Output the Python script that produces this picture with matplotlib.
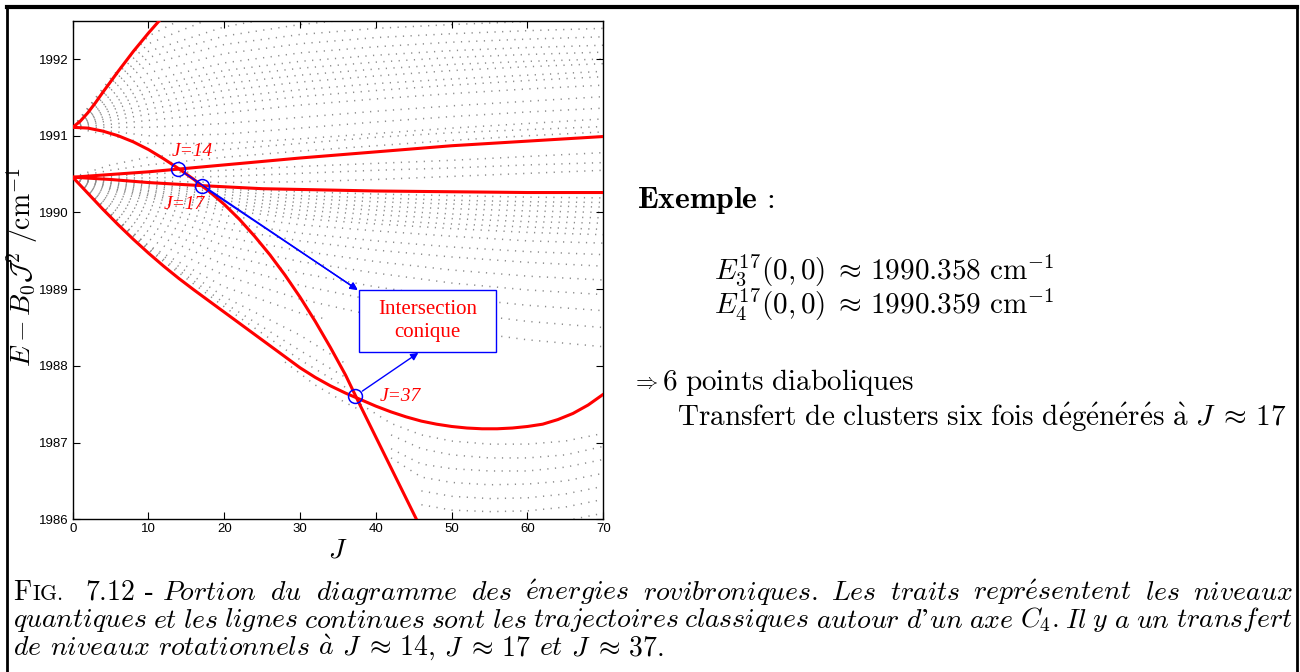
import matplotlib.pyplot as plt
from matplotlib.lines import Line2D
from matplotlib.patches import Rectangle
import numpy as np

plt.rcParams['mathtext.fontset'] = 'cm'

# classical trajectories (red curves), read as (J, E - B0 J^2)
J_r1 = [0, 1, 2, 3, 4, 6, 8, 10, 11.6]
E_r1 = [1991.11, 1991.19, 1991.30, 1991.43, 1991.57, 1991.84, 1992.10, 1992.34, 1992.52]

J_r2 = [0, 2, 4, 6, 8, 10, 12, 14, 16, 18, 20, 22, 24, 26, 28, 30, 32, 34, 36, 38, 40, 42, 44, 45.6]
E_r2 = [1991.11, 1991.10, 1991.06, 1991.00, 1990.92, 1990.82, 1990.70, 1990.57, 1990.43, 1990.275,
        1990.105, 1989.91, 1989.69, 1989.45, 1989.185, 1988.895, 1988.58, 1988.24, 1987.88, 1987.47,
        1987.07, 1986.67, 1986.27, 1985.95]

J_r3 = [0, 10, 20, 30, 40, 50, 60, 70]
E_r3 = [1990.46, 1990.53, 1990.62, 1990.71, 1990.79, 1990.87, 1990.93, 1990.99]

J_r4 = [0, 5, 10, 17, 25, 30, 40, 50, 60, 70]
E_r4 = [1990.46, 1990.43, 1990.39, 1990.35, 1990.31, 1990.30, 1990.28, 1990.27, 1990.26, 1990.26]

J_r5 = [0, 2, 4, 6, 8, 10, 12, 14, 16, 18, 20, 22, 24, 26, 28, 30, 32, 34, 36, 38, 40,
        42, 44, 46, 48, 50, 52, 54, 56, 58, 60, 62, 64, 66, 68, 70]
E_r5 = [1990.46, 1990.25, 1990.04, 1989.84, 1989.65, 1989.47, 1989.30, 1989.14, 1988.99, 1988.845,
        1988.70, 1988.555, 1988.41, 1988.265, 1988.12, 1987.975, 1987.85, 1987.74, 1987.645, 1987.56,
        1987.475, 1987.40, 1987.335, 1987.28, 1987.24, 1987.21, 1987.19, 1987.18, 1987.18, 1987.19,
        1987.21, 1987.24, 1987.30, 1987.38, 1987.49, 1987.63]

# quantum levels (grey), each branch read at these J values
J_lev = [0, 5, 10, 20, 30, 40, 50, 60, 70]
nan = np.nan
levels_up = [
    # starting from the lower cusp, just above the C4 line
    [1990.46, 1990.55, 1990.62, 1990.72, 1990.80, 1990.87, 1990.94, 1991.00, 1991.05],
    [1990.46, 1990.62, 1990.72, 1990.82, 1990.90, 1990.98, 1991.04, 1991.08, 1991.12],
    # fan from the upper cusp
    [1991.11, 1991.00, 1990.90, 1990.90, 1990.96, 1991.03, 1991.10, 1991.16, 1991.22],
    [1991.11, 1991.06, 1991.00, 1991.02, 1991.10, 1991.18, 1991.25, 1991.31, 1991.36],
    [1991.11, 1991.11, 1991.11, 1991.16, 1991.24, 1991.32, 1991.39, 1991.45, 1991.51],
    [1991.11, 1991.15, 1991.20, 1991.30, 1991.40, 1991.48, 1991.55, 1991.61, 1991.66],
    [1991.11, 1991.20, 1991.28, 1991.41, 1991.51, 1991.59, 1991.66, 1991.72, 1991.77],
    [1991.11, 1991.24, 1991.35, 1991.50, 1991.60, 1991.68, 1991.74, 1991.79, 1991.84],
    [1991.11, 1991.28, 1991.42, 1991.59, 1991.70, 1991.78, 1991.85, 1991.90, 1991.94],
    [1991.11, 1991.33, 1991.50, 1991.68, 1991.79, 1991.87, 1991.93, 1991.97, 1992.00],
    [1991.11, 1991.37, 1991.57, 1991.77, 1991.88, 1991.96, 1992.02, 1992.06, 1992.09],
    [1991.11, 1991.42, 1991.64, 1991.85, 1991.97, 1992.05, 1992.11, 1992.15, 1992.18],
    [1991.11, 1991.47, 1991.72, 1991.95, 1992.08, 1992.16, 1992.22, 1992.26, 1992.29],
    [1991.11, 1991.53, 1991.82, 1992.07, 1992.20, 1992.28, 1992.33, 1992.37, 1992.40],
    [1991.11, 1991.59, 1991.93, 1992.19, 1992.32, 1992.40, 1992.45, 1992.49, 1992.52],
    [1991.11, 1991.64, 1992.02, 1992.30, 1992.45, 1992.55, nan, nan, nan],
    [1991.11, 1991.68, 1992.10, 1992.42, 1992.60, nan, nan, nan, nan],
    [1991.11, 1991.72, 1992.20, 1992.60, nan, nan, nan, nan, nan],
    [1991.11, 1991.75, 1992.30, 1992.80, nan, nan, nan, nan, nan],
]

levels_mid = [
    # between the two flat red lines
    [1990.46, 1990.47, 1990.50, 1990.55, 1990.60, 1990.64, 1990.68, 1990.73, 1990.78],
    [1990.46, 1990.45, 1990.45, 1990.47, 1990.51, 1990.55, 1990.58, 1990.62, 1990.65],
    [1990.46, 1990.44, 1990.41, 1990.39, 1990.40, 1990.43, 1990.47, 1990.51, 1990.55],
]

levels_low = [
    # fan below the flat red line, from the lower cusp
    [1990.46, 1990.41, 1990.36, 1990.30, 1990.27, 1990.24, 1990.22, 1990.20, 1990.19],
    [1990.46, 1990.39, 1990.34, 1990.27, 1990.22, 1990.19, 1990.16, 1990.14, 1990.13],
    [1990.46, 1990.38, 1990.32, 1990.23, 1990.18, 1990.14, 1990.11, 1990.09, 1990.07],
    [1990.46, 1990.37, 1990.29, 1990.19, 1990.13, 1990.08, 1990.05, 1990.02, 1990.00],
    [1990.46, 1990.35, 1990.27, 1990.15, 1990.08, 1990.03, 1989.98, 1989.95, 1989.93],
    [1990.46, 1990.34, 1990.24, 1990.11, 1990.03, 1989.97, 1989.92, 1989.88, 1989.86],
    [1990.46, 1990.32, 1990.22, 1990.07, 1989.97, 1989.90, 1989.85, 1989.81, 1989.78],
    [1990.46, 1990.31, 1990.19, 1990.03, 1989.92, 1989.85, 1989.79, 1989.74, 1989.71],
    [1990.46, 1990.29, 1990.15, 1989.96, 1989.84, 1989.76, 1989.69, 1989.63, 1989.60],
    [1990.46, 1990.26, 1990.10, 1989.87, 1989.73, 1989.63, 1989.55, 1989.49, 1989.45],
    [1990.46, 1990.23, 1990.04, 1989.79, 1989.63, 1989.51, 1989.42, 1989.35, 1989.30],
    [1990.46, 1990.19, 1989.98, 1989.68, 1989.50, 1989.36, 1989.25, 1989.17, 1989.12],
    [1990.46, 1990.15, 1989.91, 1989.57, 1989.36, 1989.21, 1989.08, 1988.99, 1988.93],
    [1990.46, 1990.11, 1989.83, 1989.45, 1989.21, 1989.03, 1988.89, 1988.79, 1988.72],
    [1990.46, 1990.07, 1989.75, 1989.32, 1989.05, 1988.85, 1988.70, 1988.58, 1988.50],
    [1990.46, 1990.02, 1989.66, 1989.18, 1988.87, 1988.65, 1988.47, 1988.34, 1988.25],
]

# branches ending on the steep red curve
J_edge = [0, 5, 10, 20, 30, 33]
levels_edge = [
    [1990.46, 1989.97, 1989.57, 1989.03, 1988.69, 1988.62],
]
J_edge2 = [0, 5, 10, 20, 30, 36]
levels_edge2 = [
    [1990.46, 1989.99, 1989.56, 1988.90, 1988.40, 1988.03],
    [1990.46, 1989.97, 1989.53, 1988.82, 1988.20, 1987.85],
    [1990.46, 1989.96, 1989.51, 1988.77, 1988.08, 1987.72],
]

# lower right corner, below the C3 curve
J_br = [38, 42, 46, 50, 55, 60, 65, 70]
levels_br = [
    [1987.50, 1987.25, 1987.10, 1987.02, 1986.98, 1986.98, 1987.02, 1987.12],
    [nan, 1987.10, 1986.92, 1986.84, 1986.80, 1986.80, 1986.84, 1986.95],
    [nan, 1986.92, 1986.72, 1986.66, 1986.63, 1986.63, 1986.68, 1986.78],
    [nan, 1986.80, 1986.55, 1986.48, 1986.45, 1986.46, 1986.50, 1986.60],
    [nan, nan, 1986.37, 1986.30, 1986.27, 1986.28, 1986.33, 1986.43],
    [nan, nan, 1986.19, 1986.12, 1986.10, 1986.11, 1986.16, 1986.26],
    [nan, nan, nan, 1985.98, 1985.93, 1985.94, 1985.98, 1986.08],
]
J_hang = [28, 32, 36, 38]
E_hang = [1988.05, 1987.75, 1987.52, 1987.42]

# diabolic points
cross_J = [13.9, 17.0, 37.3]
cross_E = [1990.57, 1990.35, 1987.61]
cross_lab = ['J=14', 'J=17', 'J=37']

# caption text
caption_lines = [
    "Portion du diagramme des énergies rovibroniques. Les traits représentent les niveaux",
    "quantiques et les lignes continues sont les trajectoires classiques autour d'un axe $C_4.$ Il y a un transfert",
    "de niveaux rotationnels à $J\\;\\approx\\,14,$ $J\\;\\approx\\,17$ et $J\\;\\approx\\,37.$",
]

W, H = 1300, 672
fig = plt.figure(figsize=(W / 100, H / 100), dpi=100)


def fx(px):
    return px / W


def fy(py):
    return 1 - py / H


ax = fig.add_axes([fx(72.7), fy(519.3), (603.3 - 72.7) / W, (519.3 - 20.7) / H])

dot = dict(color='0.55', lw=1.1, ls=(0, (0.8, 4.2)), zorder=1)
for row in levels_up + levels_mid + levels_low:
    ax.plot(J_lev, row, **dot)
for row in levels_edge:
    ax.plot(J_edge, row, **dot)
for row in levels_edge2:
    ax.plot(J_edge2, row, **dot)
for row in levels_br:
    ax.plot(J_br, row, **dot)
ax.plot(J_hang, E_hang, **dot)

for J, E in [(J_r1, E_r1), (J_r2, E_r2), (J_r3, E_r3), (J_r4, E_r4), (J_r5, E_r5)]:
    ax.plot(J, E, color='red', lw=2.2, solid_capstyle='round', solid_joinstyle='round', zorder=3)

ax.set_xlim(0, 70)
ax.set_ylim(1986, 1992.5)
ax.set_xticks(range(0, 71, 10))
ax.set_yticks(range(1986, 1993))
ax.tick_params(direction='in', top=True, right=True, length=5, width=0.8,
               labelsize=9.5, pad=3)
for lab in ax.get_xticklabels() + ax.get_yticklabels():
    lab.set_fontfamily('Liberation Sans')
for s in ax.spines.values():
    s.set_linewidth(1.0)

fig.text(fx(22), fy(267), r'$E - B_0\mathcal{J}^2\ /\mathrm{cm}^{-1}$', fontsize=20,
         rotation=90, ha='center', va='center')
fig.text(fx(338), fy(549), r'$J$', fontsize=20, ha='center', va='center')

ax.plot(cross_J, cross_E, 'o', ms=10, mfc='none', mec='blue', mew=1.1, zorder=4)

lab_kw = dict(color='red', fontsize=14, fontstyle='italic', family='Liberation Serif',
              ha='center', va='center', zorder=5)
ax.text(15.8, 1990.80, cross_lab[0], **lab_kw)
ax.text(14.75, 1990.11, cross_lab[1], **lab_kw)
ax.text(43.2, 1987.60, cross_lab[2], **lab_kw)

ax.add_patch(Rectangle((37.8, 1988.18), 18.1, 0.81, fc='white', ec='blue', lw=1.0, zorder=5))
ax.text(46.85, 1988.59, 'Intersection\nconique', color='red', fontsize=15,
        family='Liberation Serif', ha='center', va='center', linespacing=1.3, zorder=6)

arr = dict(arrowstyle='-|>', color='blue', lw=1.0, mutation_scale=11, shrinkA=6, shrinkB=0)
ax.annotate('', xy=(37.6, 1988.99), xytext=(cross_J[0], cross_E[0]), arrowprops=arr, zorder=6)
ax.annotate('', xy=(37.6, 1988.99), xytext=(cross_J[1], cross_E[1]), arrowprops=arr, zorder=6)
ax.annotate('', xy=(45.6, 1988.17), xytext=(cross_J[2], cross_E[2]), arrowprops=arr, zorder=6)

# right-hand text
fs = 21
fig.text(fx(637), fy(200), r'$\mathbf{Exemple}\,\mathrm{:}$', fontsize=fs + 1.8, va='center')
fig.text(fx(714), fy(270), r'$E_3^{17}(0,0)\;\approx\,1990.358\ \mathrm{cm}^{-1}$', fontsize=fs, va='center')
fig.text(fx(714), fy(305), r'$E_4^{17}(0,0)\;\approx\,1990.359\ \mathrm{cm}^{-1}$', fontsize=fs, va='center')
fig.text(fx(645), fy(383), r'$\Rightarrow$', fontsize=16, ha='center', va='center')
fig.text(fx(662), fy(383), r'$6\ \mathrm{points\ diaboliques}$', fontsize=fs, va='center')
fig.text(fx(677), fy(417),
         r'$\mathrm{Transfert\ de\ clusters\ six\ fois\ d\acute{e}g\acute{e}n\acute{e}r\acute{e}s\ \grave{a}}\ J\;\approx\,17$',
         fontsize=fs, va='center')

# frame around figure
for xs, ys, lw in [([7, 1297], [7, 7], 3.0), ([7, 7], [7, 680], 2.0), ([1297, 1297], [7, 680], 2.0)]:
    fig.add_artist(Line2D([fx(x) for x in xs], [fy(y) for y in ys], color='black', lw=lw))

# caption, justified between x0 and x1
renderer = fig.canvas.get_renderer()
cap_fs = 20
x0, x1 = 13, 1293
baselines = [600, 627.5, 655]


def width_px(t):
    return t.get_window_extent(renderer).width


def italic(word):
    if word.startswith('$'):
        return word
    w = word.replace('é', r'\acute{e}').replace('à', r'\grave{a}').replace("'", '’')
    return r'$\mathit{' + w + '}$'


def tokens(line):
    out, buf = [], ''
    for w in line.split(' '):
        buf = w if not buf else buf + ' ' + w
        if buf.count('$') % 2 == 0:
            out.append(buf)
            buf = ''
    return out


# "FIG. 7.12 -" head in roman small caps
xpos = x0
for txt, size, gap in [(r'$\mathrm{F}$', cap_fs, 0), (r'$\mathrm{IG.}$', cap_fs * 0.78, 22),
                       (r'$\mathrm{7.12}$', cap_fs, 9)]:
    t = fig.text(fx(xpos), fy(baselines[0]), txt, fontsize=size, va='baseline')
    xpos += width_px(t) + gap
t = fig.text(fx(xpos), fy(baselines[0]), '-', fontsize=cap_fs, family='Liberation Serif', va='baseline')
xpos += width_px(t) + 9

for i, line in enumerate(caption_lines):
    words = [italic(w) for w in tokens(line)]
    start = xpos if i == 0 else x0
    texts = [fig.text(0, fy(baselines[i]), w, fontsize=cap_fs, va='baseline') for w in words]
    widths = [width_px(t) for t in texts]
    if i < 2:
        space = (x1 - start - sum(widths)) / (len(words) - 1)
    else:
        space = 0.3 * cap_fs * 100 / 72
    x = start
    for t, w in zip(texts, widths):
        t.set_x(fx(x))
        x += w + space

fig.savefig('out.png', dpi=100)
